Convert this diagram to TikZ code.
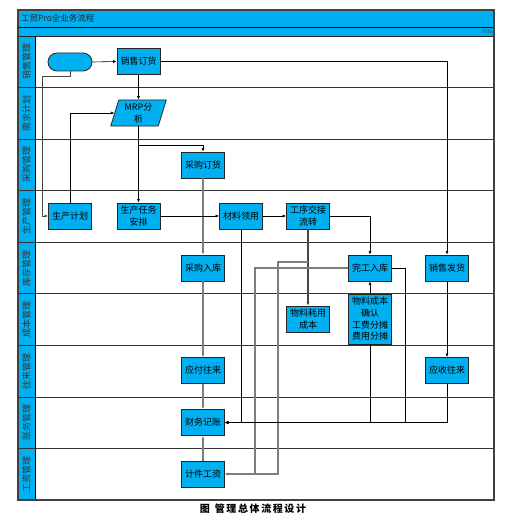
\documentclass[tikz,border=0pt]{standalone}
\usepackage{fontspec}
\newfontfamily\cjk{Noto Sans CJK SC}
\usetikzlibrary{arrows.meta}
\definecolor{cyanfill}{RGB}{0,176,240}
\definecolor{lgray}{RGB}{125,125,125}
\definecolor{dgray}{RGB}{70,70,70}
\begin{document}
\begin{tikzpicture}[x=1pt,y=-1pt,
 proc/.style={draw=black!85, line width=0.8pt, fill=cyanfill, minimum width=43pt, minimum height=26pt, inner sep=0pt, align=center, font=\cjk\fontsize{9}{12}\selectfont},
 bl/.style={draw=black, line width=0.6pt},
 gl/.style={draw=lgray, line width=1.3pt},
 dl/.style={draw=dgray, line width=1.3pt},
 arr/.style={-{Latex[length=3.5pt,width=3pt]}},
 lanelbl/.style={font=\cjk\fontsize{9}{10}\selectfont, rotate=90, text=black!80, inner sep=0pt}
]
\useasboundingbox (0,0) rectangle (515,516);
\fill[white] (0,0) rectangle (515,516);
% header bars and lane column
\fill[cyanfill] (18,10) rectangle (494,36);
\fill[cyanfill] (18,36) rectangle (35,500);
\draw[black, line width=0.6pt] (18,27) -- (494,27);
\draw[black!85, line width=0.9pt] (18,36) -- (494,36);
\foreach \k in {1,...,8} \draw[black!80, line width=0.8pt] (18,{36+51.56*\k}) -- (494,{36+51.56*\k});
\draw[black, line width=0.6pt] (35,36) -- (35,500);
\draw[black!75, line width=1.2pt] (18,10) rectangle (494,500);
% texts of the frame
\node[anchor=west, font=\cjk\fontsize{8.5}{10}\selectfont, inner sep=0pt, text=black!85] (title) at (21,18.5) {工贸Pro全业务流程};
\node[anchor=east, font=\cjk\fontsize{5}{6}\selectfont, inner sep=0pt, text=black!70] (stage) at (492.5,31.5) {阶段};
\foreach \t [count=\i from 0] in {销售管理,需求计划,采购管理,生产管理,库存管理,成本管理,往来管理,账务管理,工资管理}
  \node[lanelbl] (lane\i) at (26.5,{36+51.56*(\i+0.5)}) {\t};
% nodes
\node[draw=black!85, line width=0.8pt, fill=cyanfill, rounded corners=9pt, minimum width=44pt, minimum height=18pt, inner sep=0pt] (start) at (70,62) {};
\node[proc] (sales) at (138.5,61.5) {销售订货};
\fill[cyanfill, draw=black!85, line width=0.8pt] (110.75,126) -- (158.25,126) -- (166.25,100) -- (118.75,100) -- cycle;
\node[proc, draw=none, fill=none, minimum width=47.5pt] (mrp) at (138.5,113) {MRP分\\析};
\node[proc] (po) at (203,165) {采购订货};
\node[proc] (plan) at (70,216) {生产计划};
\node[proc] (task) at (138.5,216) {生产任务\\安排};
\node[proc] (mat) at (241,216) {材料领用};
\node[proc] (xfer) at (308,216) {工序交接\\流转};
\node[proc] (pin) at (203,268) {采购入库};
\node[proc] (fin) at (370,268) {完工入库};
\node[proc] (ship) at (447,268) {销售发货};
\node[proc] (mcost) at (308,319) {物料耗用\\成本};
\node[proc, minimum height=50pt, font=\cjk\fontsize{9}{11.7}\selectfont] (conf) at (370,319) {物料成本\\确认\\工费分摊\\费用分摊};
\node[proc] (ap) at (203,370.5) {应付往来};
\node[proc] (ar) at (447,370.5) {应收往来};
\node[proc] (acct) at (203,422.5) {财务记账};
\node[proc] (wage) at (203,474) {计件工资};
% bend points
\coordinate (k1) at (42,77);
\coordinate (k2) at (138.5,145);
\coordinate (k3) at (278,262);
\coordinate (k4) at (255,268);
\coordinate (k5) at (405,268);
% connectors
\draw[bl,arr] (start.east) -- (sales.west);
\draw[bl,arr] (sales.east) -| (ship.north);
\draw[bl,arr] (sales.south) -- (mrp.north);
\draw[dl,line width=1pt,arr] (start.south) |- (k1) |- (plan.west);
\draw[bl,arr] (plan.north) |- (mrp.west);
\draw[bl,arr] (mrp.south) -- (task.north);
\draw[bl,arr] (k2) -| (po.north);
\draw[gl,arr] (po.south) -- (pin.north);
\draw[bl,arr] (task.east) -- (mat.west);
\draw[bl,arr] (mat.east) -- (xfer.west);
\draw[bl,arr] (xfer.east) -| (fin.north);
\draw[dl,arr] (xfer.south) -- (mcost.north);
\draw[gl,arr] (xfer.south |- k3) -- (k3) |- (wage.east);
\draw[gl,arr] (fin.west) -- (k4) |- (wage.east);
\draw[bl,arr] (mat.south) |- (acct.east);
\draw[bl,arr] (conf.south) |- (acct.east);
\draw[bl,arr] (fin.east) -- (k5) |- (acct.east);
\draw[bl,arr] (ar.south) |- (acct.east);
\draw[bl,arr] (conf.north) -- (fin.south);
\draw[bl,arr] (ship.south) -- (ar.north);
\draw[gl,arr] (pin.south) -- (ap.north);
\draw[gl,arr] (ap.south) -- (acct.north);
\draw[gl,arr] (wage.north) -- (acct.south);
% caption
\node[font=\cjk\bfseries\fontsize{10}{12}\selectfont\addfontfeature{LetterSpace=16}, inner sep=0pt] (cap) at (253,508.5) {图\hspace{0.5em}管理总体流程设计};
\end{tikzpicture}
\end{document}
